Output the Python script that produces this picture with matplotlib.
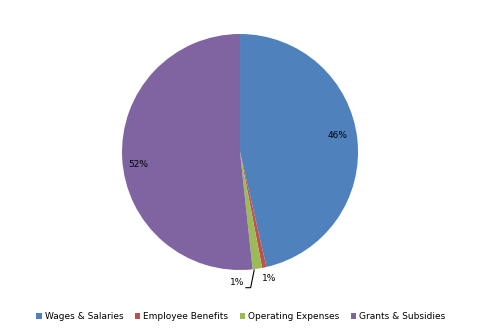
import matplotlib.pyplot as plt
import numpy as np

# Spending by category (percent of total)
categories = ['Wages & Salaries', 'Employee Benefits', 'Operating Expenses', 'Grants & Subsidies']
shares = [46.4, 0.6, 1.3, 51.7]
colors = ['#4F81BD', '#C0504D', '#9BBB59', '#8064A2']

plt.rcParams['font.family'] = ['DejaVu Sans']

fig = plt.figure(figsize=(4.8, 3.33), dpi=100)
ax = fig.add_axes([0.2542, 0.1892, 0.4917, 0.7087])

wedges, texts, autotexts = ax.pie(shares, colors=colors, startangle=90, counterclock=False,
                                  autopct='%.0f%%', pctdistance=0.6,
                                  textprops={'fontsize': 6.5, 'color': 'black'},
                                  wedgeprops={'linewidth': 0})
ax.set_aspect('auto')
ax.set_xlim(-1, 1)
ax.set_ylim(-1, 1)

# nudge labels to where the original puts them
autotexts[0].set_position((0.83, 0.144))
autotexts[3].set_position((-0.864, -0.11))
autotexts[1].set_position((0.25, -1.07))
autotexts[2].set_position((0.04, -1.11))
autotexts[2].set_ha('right')

# leader line for the operating expenses label
ax.plot([0.05, 0.09, 0.12], [-1.15, -1.15, -1.00], color='black', lw=0.8, clip_on=False)

leg = fig.legend(wedges, categories, loc='center', bbox_to_anchor=(0.502, 0.049), ncol=4,
                 frameon=False, fontsize=6.5, handlelength=0.6, handleheight=0.6,
                 handletextpad=0.35, columnspacing=1.25)

fig.savefig('out.png', dpi=100)
